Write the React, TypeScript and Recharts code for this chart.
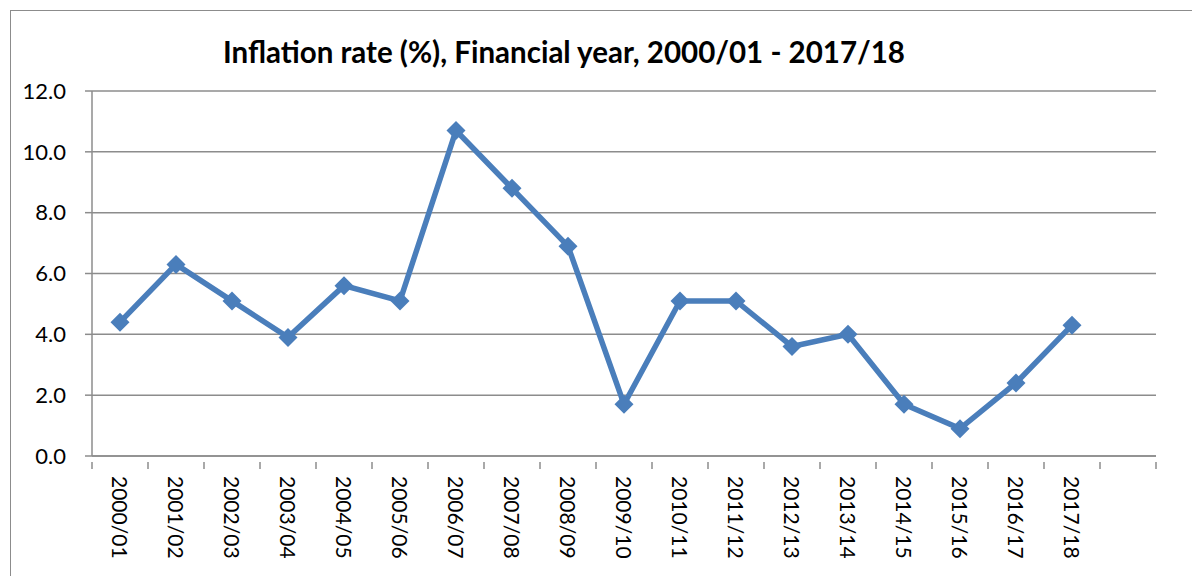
import { LineChart, Line, XAxis, YAxis, CartesianGrid } from "recharts"

// financial years (last slot left empty, like the source chart)
const years = [
  "2000/01", "2001/02", "2002/03", "2003/04", "2004/05", "2005/06",
  "2006/07", "2007/08", "2008/09", "2009/10", "2010/11", "2011/12",
  "2012/13", "2013/14", "2014/15", "2015/16", "2016/17", "2017/18", "",
]
const inflation = [
  4.4, 6.3, 5.1, 3.9, 5.6, 5.1, 10.7, 8.8, 6.9, 1.7,
  5.1, 5.1, 3.6, 4.0, 1.7, 0.9, 2.4, 4.3, null,
]
const yTicks = [0, 2, 4, 6, 8, 10, 12]

const data = years.map((year, i) => ({ year, rate: inflation[i] }))

const FONT = "Lato, 'Open Sans', sans-serif"
const GRID = "#8c8c8c"
const BLUE = "#4a7ebb"
const BAND = 56

function Diamond(props: any) {
  const { cx, cy } = props
  if (cx == null || cy == null || props.value == null) return null
  const r = 9.5
  return (
    <path
      d={`M${cx},${cy - r} L${cx + r},${cy} L${cx},${cy + r} L${cx - r},${cy} Z`}
      fill={BLUE}
    />
  )
}

function YearTick(props: any) {
  const { x, y, payload, index } = props
  const top = y - 2
  return (
    <g>
      <line x1={x - BAND / 2} y1={top} x2={x - BAND / 2} y2={top + 7} stroke={GRID} strokeWidth={1.5} />
      {index === years.length - 1 && (
        <line x1={x + BAND / 2} y1={top} x2={x + BAND / 2} y2={top + 7} stroke={GRID} strokeWidth={1.5} />
      )}
      <text
        x={0}
        y={0}
        transform={`translate(${x},${top + 14}) rotate(90)`}
        textAnchor="start"
        dy="0.36em"
        fontFamily={FONT}
        fontSize={21}
        fill="#000"
      >
        {payload.value}
      </text>
    </g>
  )
}

export default function App() {
  return (
    <div style={{ position: "absolute", left: 0, top: 0, width: 1192, height: 576, background: "#fff" }}>
      <div
        style={{
          position: "absolute",
          left: 10,
          top: 10,
          width: 1200,
          height: 600,
          borderLeft: "1.5px solid #8c8c8c",
          borderTop: "1.5px solid #8c8c8c",
        }}
      />
      <div
        style={{
          position: "absolute",
          left: 0,
          width: 1128,
          top: 34,
          textAlign: "center",
          fontFamily: FONT,
          fontWeight: 700,
          fontSize: 29.5,
          lineHeight: "36px",
          color: "#000",
        }}
      >
        Inflation rate (%), Financial year, 2000/01 - 2017/18
      </div>
      <div style={{ position: "absolute", left: 0, top: 0 }}>
        <LineChart width={1192} height={576} data={data} margin={{ top: 91, right: 36, bottom: 0, left: 0 }}>
          <CartesianGrid vertical={false} stroke={GRID} strokeWidth={1.5} />
          <XAxis
            dataKey="year"
            scale="band"
            interval={0}
            tickLine={false}
            axisLine={{ stroke: GRID, strokeWidth: 1.5 }}
            tick={<YearTick />}
            height={120}
          />
          <YAxis
            domain={[0, 12]}
            ticks={yTicks}
            width={92}
            tickSize={7}
            tickMargin={19}
            tickLine={{ stroke: GRID, strokeWidth: 1.5 }}
            axisLine={{ stroke: GRID, strokeWidth: 1.5 }}
            tickFormatter={(v: number) => v.toFixed(1)}
            tick={{ fontFamily: FONT, fontSize: 22, fill: "#000" }}
          />
          <Line
            dataKey="rate"
            stroke={BLUE}
            strokeWidth={5.5}
            dot={<Diamond />}
            activeDot={false}
            isAnimationActive={false}
          />
        </LineChart>
      </div>
    </div>
  )
}
